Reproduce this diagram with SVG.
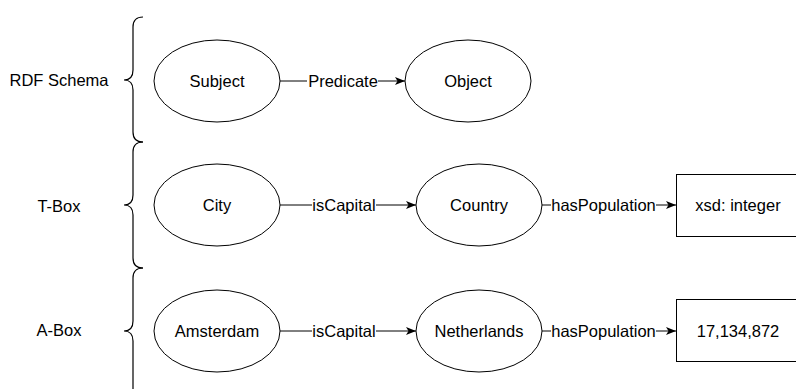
<svg xmlns="http://www.w3.org/2000/svg" width="796" height="389" viewBox="0 0 796 389">
  <style>
    text { font-family: "Liberation Sans", Arial, sans-serif; font-size: 16.5px; fill: #000; }
    .node { fill: #fff; stroke: #000; stroke-width: 1; }
    .brace { fill: none; stroke: #000; stroke-width: 1.2; }
    .edge { fill: none; stroke: #000; stroke-width: 1; }
    .lbl-bg { fill: #fff; }
  </style>
  <defs>
    <marker id="arrow" viewBox="0 0 10 10" refX="10" refY="5" markerWidth="10" markerHeight="10" markerUnits="userSpaceOnUse" orient="auto">
      <path d="M0,1 L10,5 L0,9 L2.5,5 Z" fill="#000"/>
    </marker>
  </defs>
  <rect width="796" height="389" fill="#fff"/>

  <!-- layer labels with curly braces -->
  <g id="layer-rdf">
    <path class="brace" d="M143,17 Q133,17 133,27 L133,70 Q133,80 124,80 Q133,80 133,90 L133,132 Q133,142 143,142"/>
    <text x="59" y="86" text-anchor="middle">RDF Schema</text>
  </g>
  <g id="layer-tbox">
    <path class="brace" d="M143,142 Q133,142 133,152 L133,195 Q133,205 124,205 Q133,205 133,215 L133,258 Q133,268 143,268"/>
    <text x="59" y="212" text-anchor="middle">T-Box</text>
  </g>
  <g id="layer-abox">
    <path class="brace" d="M143,268 Q133,268 133,278 L133,321 Q133,331 124,331 Q133,331 133,341 L133,394"/>
    <text x="59" y="336" text-anchor="middle">A-Box</text>
  </g>

  <!-- connectors -->
  <g id="connectors">
    <line class="edge" x1="280" y1="81" x2="405" y2="81" marker-end="url(#arrow)"/>
    <rect class="lbl-bg" x="307" y="71" width="71" height="20"/>
    <text x="343" y="87" text-anchor="middle">Predicate</text>

    <line class="edge" x1="280" y1="205" x2="416" y2="205" marker-end="url(#arrow)"/>
    <rect class="lbl-bg" x="312" y="195" width="64" height="20"/>
    <text x="344" y="211" text-anchor="middle">isCapital</text>

    <line class="edge" x1="542" y1="205" x2="676" y2="205" marker-end="url(#arrow)"/>
    <rect class="lbl-bg" x="551" y="195" width="105" height="20"/>
    <text x="603.5" y="211" text-anchor="middle">hasPopulation</text>

    <line class="edge" x1="280" y1="331" x2="416" y2="331" marker-end="url(#arrow)"/>
    <rect class="lbl-bg" x="312" y="321" width="64" height="20"/>
    <text x="344" y="337" text-anchor="middle">isCapital</text>

    <line class="edge" x1="542" y1="331" x2="676" y2="331" marker-end="url(#arrow)"/>
    <rect class="lbl-bg" x="551" y="321" width="105" height="20"/>
    <text x="603.5" y="337" text-anchor="middle">hasPopulation</text>
  </g>

  <!-- RDF Schema row -->
  <g id="node-subject">
    <ellipse class="node" cx="217" cy="81" rx="63" ry="41"/>
    <text x="217" y="87" text-anchor="middle">Subject</text>
  </g>
  <g id="node-object">
    <ellipse class="node" cx="468" cy="81" rx="63" ry="41"/>
    <text x="468" y="87" text-anchor="middle">Object</text>
  </g>

  <!-- T-Box row -->
  <g id="node-city">
    <ellipse class="node" cx="217" cy="205" rx="63" ry="41"/>
    <text x="217" y="211" text-anchor="middle">City</text>
  </g>
  <g id="node-country">
    <ellipse class="node" cx="479" cy="205" rx="63" ry="41"/>
    <text x="479" y="211" text-anchor="middle">Country</text>
  </g>
  <g id="node-xsd-integer">
    <rect class="node" x="676.5" y="174.5" width="124" height="62"/>
    <text x="738" y="211" text-anchor="middle">xsd: integer</text>
  </g>

  <!-- A-Box row -->
  <g id="node-amsterdam">
    <ellipse class="node" cx="217" cy="331" rx="63" ry="41"/>
    <text x="217" y="337" text-anchor="middle">Amsterdam</text>
  </g>
  <g id="node-netherlands">
    <ellipse class="node" cx="479" cy="331" rx="63" ry="41"/>
    <text x="479" y="337" text-anchor="middle">Netherlands</text>
  </g>
  <g id="node-population">
    <rect class="node" x="676.5" y="299.5" width="124" height="62"/>
    <text x="738" y="337" text-anchor="middle">17,134,872</text>
  </g>
</svg>
